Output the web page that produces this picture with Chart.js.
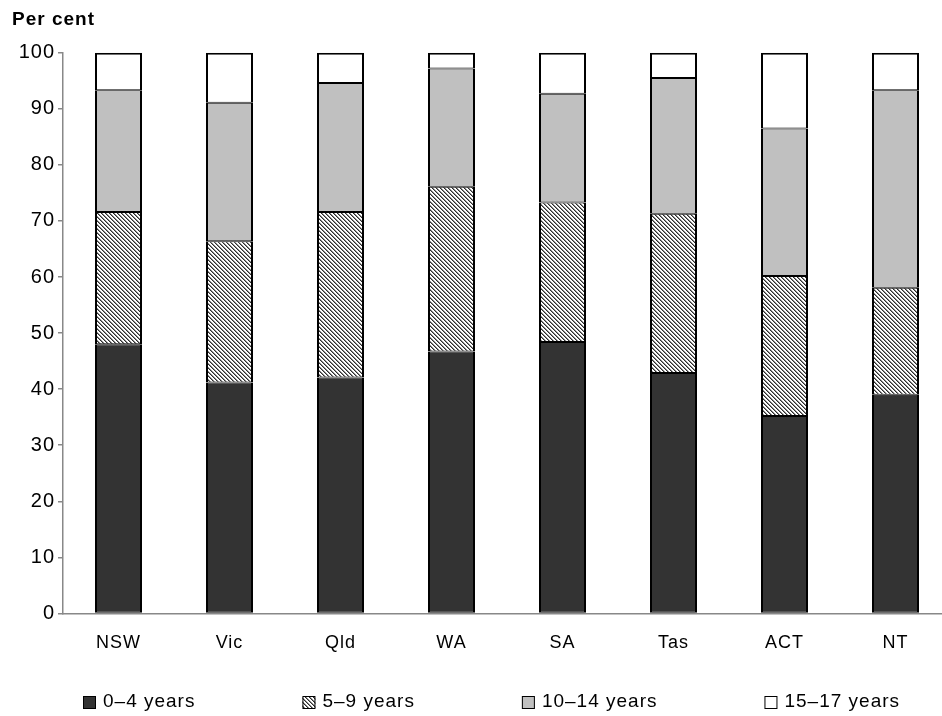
<!DOCTYPE html>
<html>
<head>
<meta charset="utf-8">
<script src="https://cdn.jsdelivr.net/npm/chart.js@4.4.0/dist/chart.umd.min.js"></script>
<style>
  html, body { margin: 0; padding: 0; background: #fff; overflow: hidden; }
  canvas { display: block; }
</style>
</head>
<body>
<canvas id="ageChart" width="951" height="716"></canvas>
<script>
// data (per cent of children, by state)
const states = ['NSW', 'Vic', 'Qld', 'WA', 'SA', 'Tas', 'ACT', 'NT'];
const ageGroups = ['0–4 years', '5–9 years', '10–14 years', '15–17 years'];
const age0to4 = [48.0, 41.2, 42.1, 46.7, 48.4, 42.9, 35.2, 39.0];
const age5to9 = [23.6, 25.2, 29.5, 29.4, 24.9, 28.4, 25.0, 19.1];
const age10to14 = [21.7, 24.7, 23.0, 21.1, 19.4, 24.2, 26.3, 35.2];
const age15to17 = [6.7, 8.9, 5.4, 2.8, 7.3, 4.5, 13.5, 6.7];
const yTicks = [0, 10, 20, 30, 40, 50, 60, 70, 80, 90, 100];

const FONT = "'Liberation Sans', Arial, sans-serif";
const SPACING = '1px';

// diagonal hatch for the 5-9 series
function makeHatch() {
    const tile = document.createElement('canvas');
    tile.width = 4;
    tile.height = 4;
    const c = tile.getContext('2d');
    c.fillStyle = '#ffffff';
    c.fillRect(0, 0, 4, 4);
    for (let y = 0; y < 4; y++) {
        for (let x = 0; x < 4; x++) {
            const d = (x - y + 4) % 4;
            if (d === 0) { c.fillStyle = '#2e2e2e'; c.fillRect(x, y, 1, 1); }
            if (d === 1) { c.fillStyle = '#8c8c8c'; c.fillRect(x, y, 1, 1); }
        }
    }
    return document.getElementById('ageChart').getContext('2d').createPattern(tile, 'repeat');
}

const hatch = makeHatch();
const fills = ['#333333', hatch, '#c0c0c0', '#ffffff'];
const seriesValues = [age0to4, age5to9, age10to14, age15to17];

// canvas letter spacing (reference text is spaced out a little)
const spacingPlugin = {
    id: 'spacing',
    beforeUpdate(chart) { chart.ctx.letterSpacing = SPACING; },
    beforeDraw(chart) { chart.ctx.letterSpacing = SPACING; }
};

// legend laid out like the original: square, text, wide gap
const bottomLegend = {
    id: 'bottomLegend',
    afterDraw(chart) {
        const ctx = chart.ctx;
        ctx.save();
        ctx.letterSpacing = SPACING;
        ctx.font = '19px ' + FONT;
        ctx.textBaseline = 'middle';
        let x = 83;
        const y = 702;
        chart.data.datasets.forEach(ds => {
            ctx.fillStyle = ds.backgroundColor;
            ctx.fillRect(x, y - 6, 13, 13);
            ctx.strokeStyle = '#000';
            ctx.lineWidth = 1;
            ctx.strokeRect(x + 0.5, y - 5.5, 12, 12);
            ctx.fillStyle = '#000';
            ctx.fillText(ds.label, x + 20, y);
            x += 20 + ctx.measureText(ds.label).width + 107;
        });
        ctx.restore();
    }
};

new Chart(document.getElementById('ageChart'), {
    type: 'bar',
    data: {
        labels: states,
        datasets: ageGroups.map((g, i) => ({
            label: g,
            data: seriesValues[i],
            backgroundColor: fills[i],
            borderColor: '#000000',
            borderWidth: { left: 2, right: 2, top: i === 3 ? 2 : 1, bottom: 1 },
            borderSkipped: false,
            inflateAmount: 0,
            barPercentage: 47 / 111,
            categoryPercentage: 1.0
        }))
    },
    options: {
        responsive: false,
        animation: false,
        devicePixelRatio: 1,
        layout: {
            padding: { left: 12, right: 0, top: 0, bottom: 43 }
        },
        plugins: {
            legend: { display: false },
            tooltip: { enabled: false },
            title: {
                display: true,
                text: 'Per cent',
                align: 'start',
                color: '#000',
                font: { family: FONT, size: 19, weight: 'bold' },
                padding: { top: 8, bottom: 22 }
            }
        },
        scales: {
            x: {
                stacked: true,
                grid: { display: false, drawTicks: false },
                border: { display: true, color: '#888888', width: 1.5 },
                ticks: {
                    color: '#000',
                    font: { family: FONT, size: 18 },
                    padding: 19,
                    maxRotation: 0
                }
            },
            y: {
                stacked: true,
                min: 0,
                max: 100,
                afterBuildTicks: scale => {
                    scale.ticks = yTicks.map(v => ({ value: v }));
                },
                afterFit: scale => { scale.width = 51; },
                grid: {
                    drawOnChartArea: false,
                    drawTicks: true,
                    tickLength: 5,
                    color: '#888888',
                    lineWidth: 1.5
                },
                border: { display: true, color: '#888888', width: 1.5 },
                ticks: {
                    color: '#000',
                    font: { family: FONT, size: 20 },
                    padding: 3
                }
            }
        }
    },
    plugins: [spacingPlugin, bottomLegend]
});
</script>
</body>
</html>
